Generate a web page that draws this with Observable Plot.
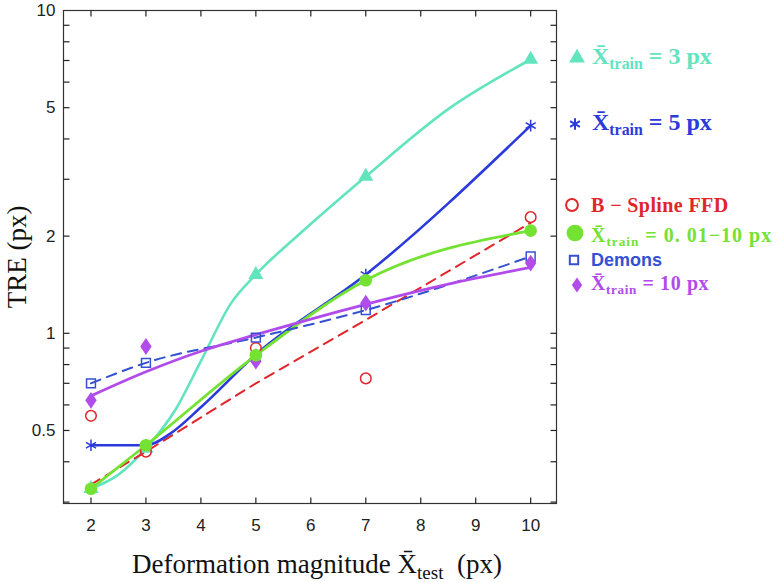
<!DOCTYPE html>
<html><head><meta charset="utf-8">
<script src="https://cdn.jsdelivr.net/npm/d3@7"></script>
<script src="https://cdn.jsdelivr.net/npm/@observablehq/plot@0.6"></script>
<style>body{margin:0;background:#fff} #chart{position:relative;width:780px;height:582px}</style>
</head><body><div id="chart"></div>
<script>
// ---- data ----
const xTest = [2, 3, 5, 7, 10];
const train3 = [0.33, 0.44, 1.52, 3.06, 7.05];
const train5 = [0.45, 0.45, 0.86, 1.52, 4.4];
const bspline = [0.555, 0.43, 0.90, 0.725, 2.29];
const trainAll = [0.33, 0.45, 0.855, 1.46, 2.08];
const demons = [0.70, 0.81, 0.97, 1.18, 1.73];
const train10 = [0.62, 0.91, 0.82, 1.24, 1.65];

// fitted curves as drawn in the reference
const train3CurveX = [2, 2.5, 3, 3.55, 4, 4.55, 5, 5.85, 7, 8.5, 10];
const train3CurveY = [0.33, 0.365, 0.44, 0.585, 0.82, 1.24, 1.52, 2.07, 3.06, 4.95, 7.05];
const train5CurveX = [2, 3, 3.45, 4, 5, 7, 10];
const train5CurveY = [0.45, 0.45, 0.49, 0.59, 0.86, 1.52, 4.4];
const bsplineFitX = [2, 3, 5, 7, 10];
const bsplineFitY = [0.34, 0.43, 0.70, 1.10, 2.2];
const train10FitX = [2, 3, 4, 5, 7, 8.5, 10];
const train10FitY = [0.64, 0.76, 0.88, 0.99, 1.23, 1.42, 1.60];

const xTicks = [2, 3, 4, 5, 6, 7, 8, 9, 10];
const yMajor = [0.5, 1, 2, 5, 10];
const yMinor = [0.3, 0.4, 0.5, 0.6, 0.7, 0.8, 0.9, 1, 2, 3, 4, 5, 6, 7, 8, 9];

const C = {
  cyan: "#62E4BE", blue: "#2B3BDB", red: "#E0262B",
  green: "#74E232", demons: "#3451D1", purple: "#B14CEB"
};

const pts = (xs, ys) => xs.map((x, i) => ({x, y: ys[i]}));

// custom diamond (taller than wide)
const diamondSym = {
  draw(ctx, size) {
    const h = Math.sqrt(size) * 0.95, w = h * 0.68;
    ctx.moveTo(0, -h); ctx.lineTo(w, 0); ctx.lineTo(0, h); ctx.lineTo(-w, 0); ctx.closePath();
  }
};
// inward tick glyphs (drawn as dot symbols anchored on the frame)
const TL = 6;
const tickSym = (dx, dy) => ({draw(ctx) { ctx.moveTo(0, 0); ctx.lineTo(dx * TL, dy * TL); }});
const tickStyle = {fill: "none", stroke: "#222", strokeWidth: 1.2};

const plot = Plot.plot({
  width: 780, height: 582,
  marginLeft: 63, marginRight: 224, marginTop: 10, marginBottom: 79,
  x: {domain: [1.5, 10.47]},
  y: {type: "log", domain: [0.297, 10]},
  style: {fontFamily: "'Liberation Sans', Arial, sans-serif", fontSize: "17px", color: "#222", background: "#fff"},
  marks: [
    Plot.axisX({anchor: "bottom", ticks: xTicks, tickSize: 0, tickPadding: 15, label: null, fill: "#222"}),
    Plot.axisY({anchor: "left", ticks: yMajor, tickSize: 0, tickPadding: 8, tickFormat: d => String(d), label: null, fill: "#222"}),
    Plot.frame({stroke: "#333", strokeWidth: 1.2}),
    // inward ticks on all four sides
    Plot.dot(xTicks, {x: d => d, frameAnchor: "bottom", symbol: tickSym(0, -1), ...tickStyle}),
    Plot.dot(xTicks, {x: d => d, frameAnchor: "top", symbol: tickSym(0, 1), ...tickStyle}),
    Plot.dot(yMinor, {y: d => d, frameAnchor: "left", symbol: tickSym(1, 0), ...tickStyle}),
    Plot.dot(yMinor, {y: d => d, frameAnchor: "right", symbol: tickSym(-1, 0), ...tickStyle}),

    Plot.line(pts(train3CurveX, train3CurveY), {x: "x", y: "y", stroke: C.cyan, strokeWidth: 2.6, curve: "monotone-x"}),
    Plot.line(pts(bsplineFitX, bsplineFitY), {x: "x", y: "y", stroke: C.red, strokeWidth: 2, strokeDasharray: "10,7", curve: "linear"}),
    Plot.line(pts(train5CurveX, train5CurveY), {x: "x", y: "y", stroke: C.blue, strokeWidth: 2.6, curve: "monotone-x"}),
    Plot.line(pts(xTest, trainAll), {x: "x", y: "y", stroke: C.green, strokeWidth: 2.8, curve: "monotone-x"}),
    Plot.line(pts(xTest, demons), {x: "x", y: "y", stroke: C.demons, strokeWidth: 2, strokeDasharray: "10,7", curve: "monotone-x"}),
    Plot.line(pts(train10FitX, train10FitY), {x: "x", y: "y", stroke: C.purple, strokeWidth: 2.8, curve: "monotone-x"}),

    Plot.dot(pts(xTest, train3), {x: "x", y: "y", symbol: "triangle", fill: C.cyan, r: 5.6}),
    Plot.dot(pts(xTest, train5), {x: "x", y: "y", symbol: "asterisk", stroke: C.blue, strokeWidth: 1.5, r: 5.5}),
    Plot.dot(pts(xTest, bspline), {x: "x", y: "y", symbol: "circle", stroke: C.red, fill: "none", strokeWidth: 1.5, r: 5.3}),
    Plot.dot(pts(xTest, demons), {x: "x", y: "y", symbol: "square", stroke: C.demons, fill: "none", strokeWidth: 1.5, r: 5}),
    Plot.dot(pts(xTest, train10), {x: "x", y: "y", symbol: diamondSym, fill: C.purple, r: 5}),
    Plot.dot(pts(xTest, trainAll), {x: "x", y: "y", symbol: "circle", fill: C.green, r: 6.3})
  ]
});
document.getElementById("chart").appendChild(plot);

// ---- axis titles & legend ----
const svg = d3.select(plot);
const serif = "'Liberation Serif', 'Times New Roman', serif";

svg.append("text")
  .attr("transform", "translate(26,257) rotate(-90)")
  .attr("text-anchor", "middle").attr("font-family", serif).attr("font-size", 27).attr("fill", "#111")
  .text("TRE (px)");

const xl = svg.append("text").attr("x", 317).attr("y", 573).attr("text-anchor", "middle")
  .attr("font-family", serif).attr("font-size", 27).attr("fill", "#111");
xl.append("tspan").text("Deformation magnitude X\u0304");
xl.append("tspan").attr("font-size", 19).attr("dy", 6).text("test");
xl.append("tspan").attr("dy", -6).text("\u00a0\u00a0(px)");

const legend = [
  {sym: d3.symbolTriangle, size: 110, fill: C.cyan, stroke: "none", cx: 577, cy: 58, color: C.cyan, tx: 592, ty: 64, fs: 24, parts: ["X\u0304", "train", " = 3 px"]},
  {sym: d3.symbolAsterisk, size: 90, fill: "none", stroke: C.blue, cx: 575, cy: 124, color: C.blue, tx: 592, ty: 130, fs: 24, parts: ["X\u0304", "train", " = 5 px"]},
  {sym: d3.symbolCircle, size: 110, fill: "none", stroke: C.red, cx: 572, cy: 205, color: C.red, tx: 591, ty: 212, fs: 20, ls: 0.4, parts: ["B \u2212 Spline FFD"]},
  {sym: d3.symbolCircle, size: 220, fill: C.green, stroke: "none", cx: 575, cy: 233, color: C.green, tx: 591, ty: 242, fs: 20, ls: 1, parts: ["X\u0304", "train", " = 0. 01\u221210 px"]},
  {sym: d3.symbolSquare, size: 70, fill: "none", stroke: C.demons, cx: 574, cy: 260, color: C.demons, tx: 591, ty: 266, fs: 18, sans: true, parts: ["Demons"]},
  {sym: diamondSym, size: 64, fill: C.purple, stroke: "none", cx: 577, cy: 285, color: C.purple, tx: 591, ty: 290, fs: 20, ls: 0.6, parts: ["X\u0304", "train", " = 10 px"]}
];
const lg = svg.append("g").attr("text-anchor", "start");
legend.forEach(d => {
  lg.append("path").attr("d", d3.symbol(d.sym, d.size)())
    .attr("transform", `translate(${d.cx},${d.cy})`)
    .attr("fill", d.fill).attr("stroke", d.stroke).attr("stroke-width", 2);
  const t = lg.append("text").attr("x", d.tx).attr("y", d.ty).attr("text-anchor", "start")
    .attr("font-family", d.sans ? "'Liberation Sans', Arial, sans-serif" : serif)
    .attr("font-weight", "bold").attr("font-size", d.fs).attr("fill", d.color)
    .attr("letter-spacing", d.ls || 0)
    .style("white-space", "pre");
  if (d.parts.length === 1) t.text(d.parts[0]);
  else {
    t.append("tspan").text(d.parts[0]);
    t.append("tspan").attr("font-size", d.fs * 0.66).attr("dy", d.fs * 0.22).text(d.parts[1]);
    t.append("tspan").attr("dy", -d.fs * 0.22).text(d.parts[2]);
  }
});
</script>
</body></html>
